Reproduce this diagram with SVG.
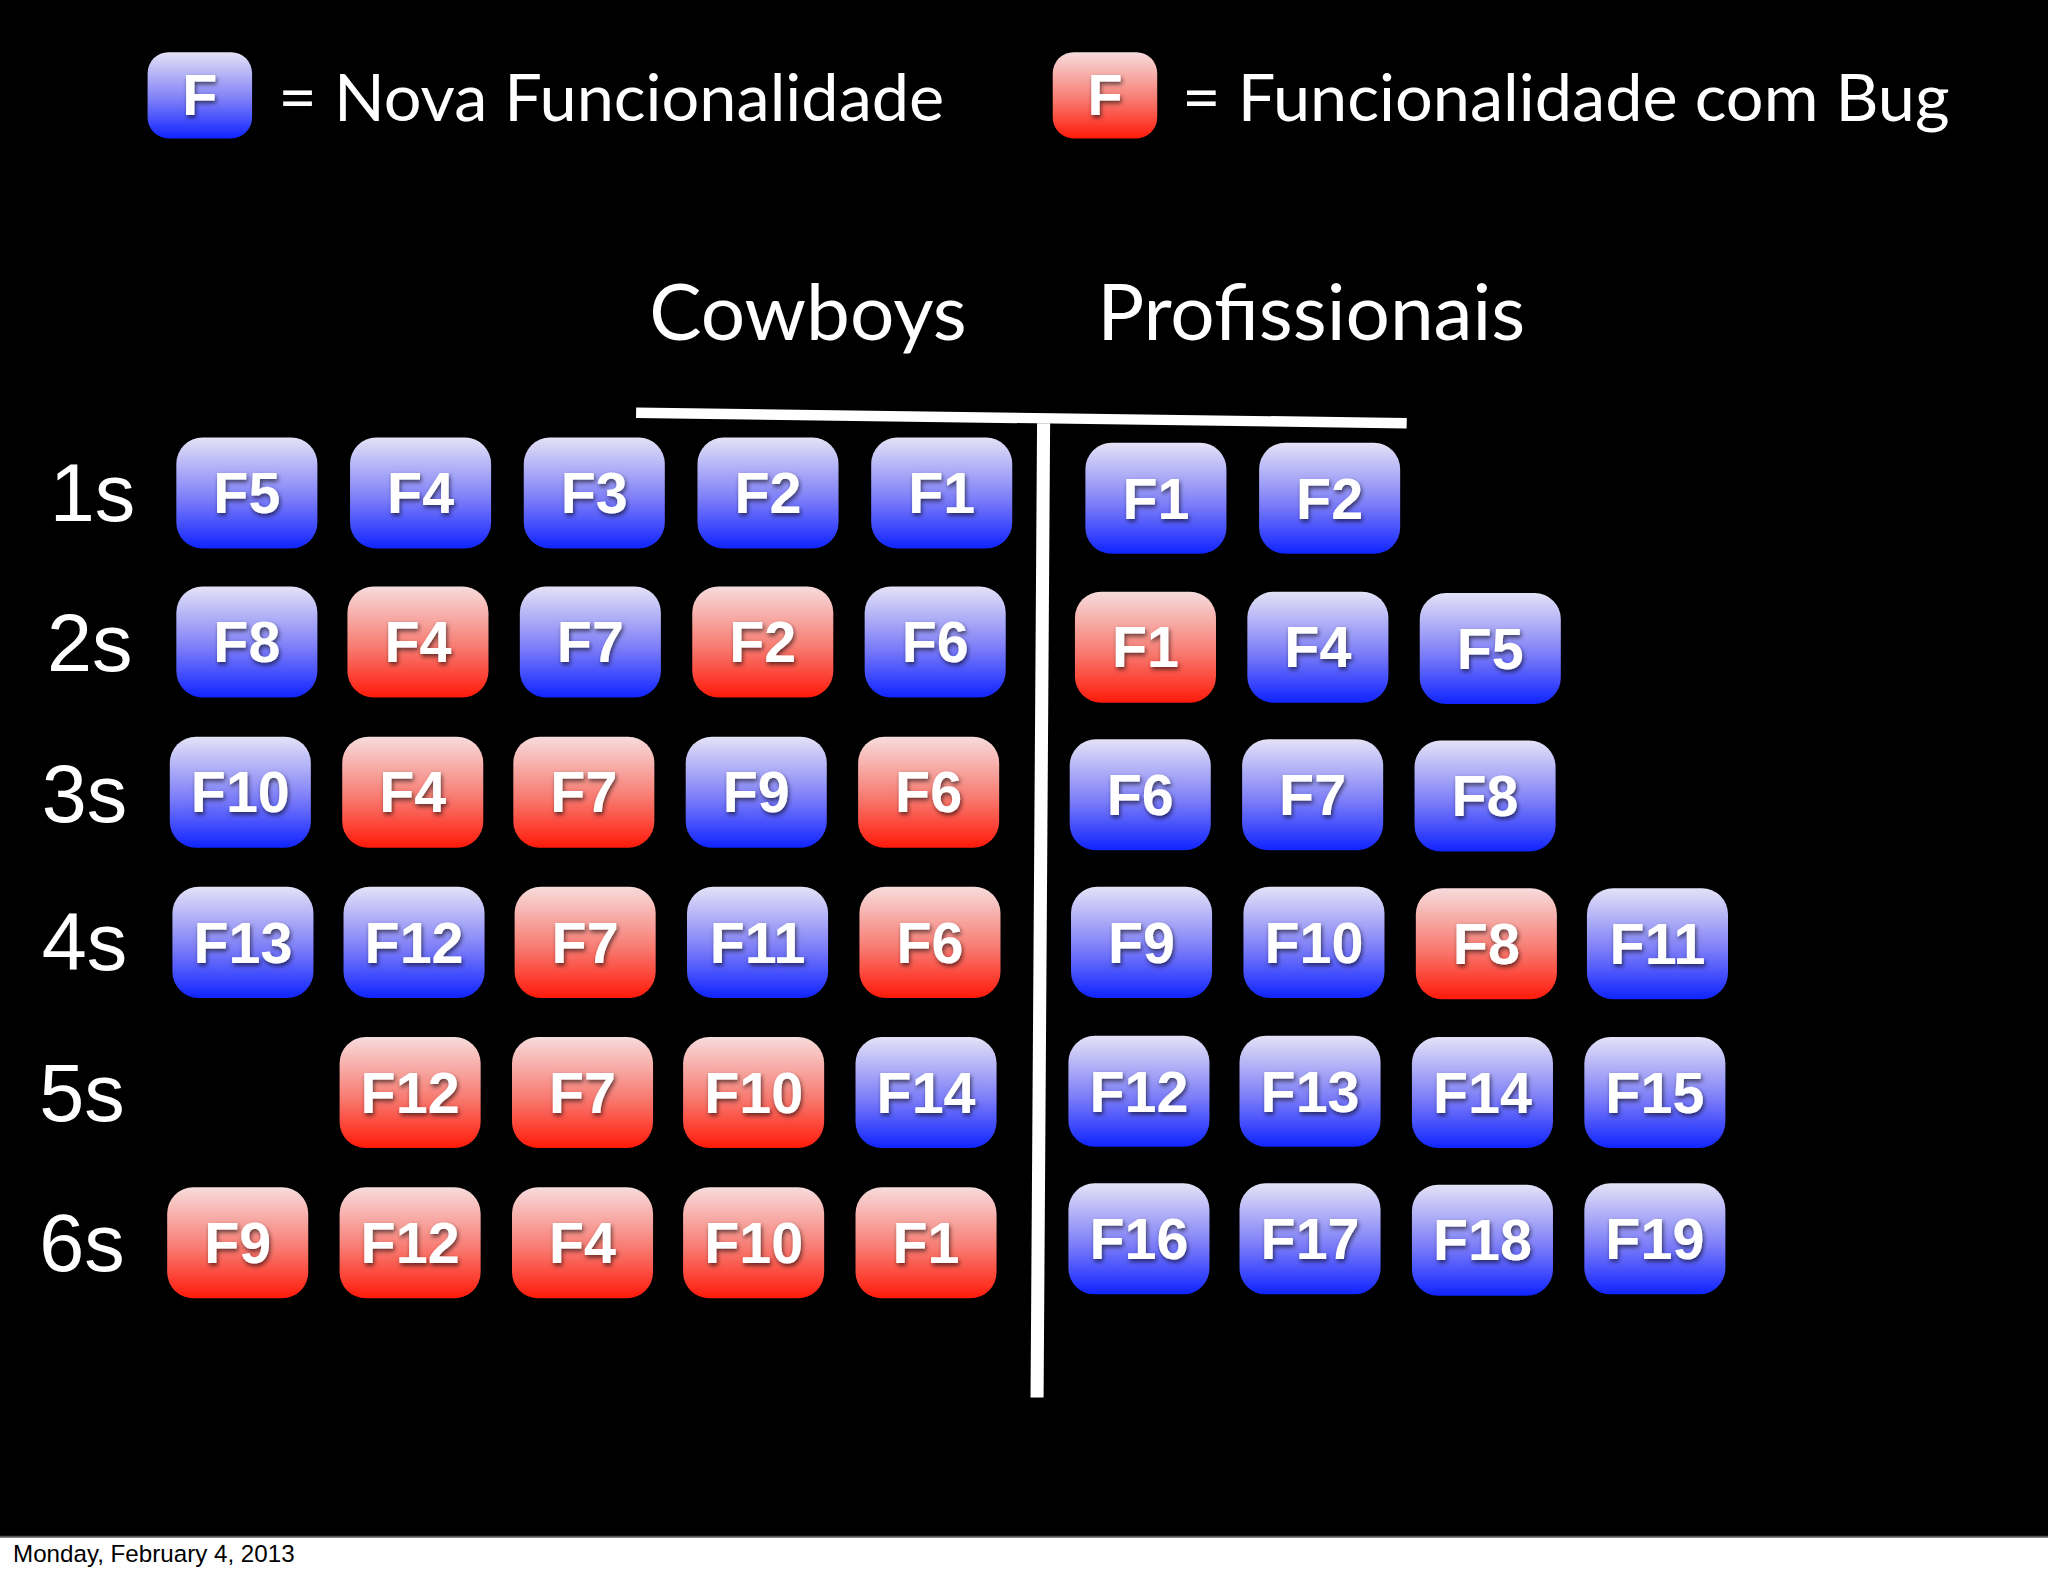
<svg xmlns="http://www.w3.org/2000/svg" width="2048" height="1576" viewBox="0 0 2048 1576">
<defs>
<linearGradient id="gb" x1="0" y1="0" x2="0" y2="1"><stop offset="0" stop-color="#e4e2f6"/><stop offset="0.55" stop-color="#7d7ef8"/><stop offset="1" stop-color="#1024ff"/></linearGradient>
<linearGradient id="gr" x1="0" y1="0" x2="0" y2="1"><stop offset="0" stop-color="#f6dcdc"/><stop offset="0.55" stop-color="#f87a70"/><stop offset="1" stop-color="#ff1a0a"/></linearGradient>
<filter id="sh" x="-20%" y="-20%" width="140%" height="140%"><feDropShadow dx="1" dy="2" stdDeviation="1.5" flood-color="#000" flood-opacity="0.6"/></filter>
<style>
.b rect,.b use{fill:url(#gb)}.r rect,.r use{fill:url(#gr)}
.n text{font-family:"Liberation Sans",Arial,sans-serif;font-weight:bold;font-size:44px;fill:#fff;text-anchor:middle;filter:url(#sh)}
.lab{font-family:"Liberation Sans",Arial,sans-serif;font-size:62px;fill:#fff}
.hd{font-family:"Lato","Open Sans",sans-serif;font-size:60px;fill:#fff}
.lg{font-family:"Lato","Open Sans",sans-serif;font-size:51px;fill:#fff}
</style>
<rect id="box" x="-54" y="-42" width="108" height="85" rx="20"/>
</defs>
<rect width="2048" height="1576" fill="#fff"/>
<g transform="scale(1.30612)">
<rect x="0" y="0" width="1568" height="1176" fill="#000"/>
<line x1="0" y1="1176.5" x2="1568" y2="1176.5" stroke="#555" stroke-width="1.5"/>
<text x="10" y="1196" font-family="Liberation Sans,Arial,sans-serif" font-size="18.5" fill="#000">Monday, February 4, 2013</text>
<g id="legend">
<g class="n b" transform="translate(153,73)"><rect x="-40" y="-33" width="80" height="66" rx="16"/><text y="15">F</text></g>
<text class="lg" x="213" y="93">= Nova Funcionalidade</text>
<g class="n r" transform="translate(846,73)"><rect x="-40" y="-33" width="80" height="66" rx="16"/><text y="15">F</text></g>
<text class="lg" x="905" y="93">= Funcionalidade com Bug</text>
</g>
<text class="hd" x="497" y="260">Cowboys</text>
<text class="hd" x="840" y="260">Profissionais</text>
<g id="connectors" stroke="#fff" fill="none">
<line x1="487" y1="316" x2="1077" y2="324" stroke-width="8"/>
<line x1="799" y1="324" x2="794" y2="1070" stroke-width="10"/>
</g>
<g id="labels">
<text class="lab" x="38" y="399">1s</text>
<text class="lab" x="36" y="514">2s</text>
<text class="lab" x="32" y="629">3s</text>
<text class="lab" x="32" y="743">4s</text>
<text class="lab" x="30" y="858">5s</text>
<text class="lab" x="30" y="973">6s</text>
</g>
<g id="nodes" class="n">
<g class="b" transform="translate(189,377)"><use href="#box"/><text y="16">F5</text></g>
<g class="b" transform="translate(322,377)"><use href="#box"/><text y="16">F4</text></g>
<g class="b" transform="translate(455,377)"><use href="#box"/><text y="16">F3</text></g>
<g class="b" transform="translate(588,377)"><use href="#box"/><text y="16">F2</text></g>
<g class="b" transform="translate(721,377)"><use href="#box"/><text y="16">F1</text></g>
<g class="b" transform="translate(885,381)"><use href="#box"/><text y="16">F1</text></g>
<g class="b" transform="translate(1018,381)"><use href="#box"/><text y="16">F2</text></g>

<g class="b" transform="translate(189,491)"><use href="#box"/><text y="16">F8</text></g>
<g class="r" transform="translate(320,491)"><use href="#box"/><text y="16">F4</text></g>
<g class="b" transform="translate(452,491)"><use href="#box"/><text y="16">F7</text></g>
<g class="r" transform="translate(584,491)"><use href="#box"/><text y="16">F2</text></g>
<g class="b" transform="translate(716,491)"><use href="#box"/><text y="16">F6</text></g>
<g class="r" transform="translate(877,495)"><use href="#box"/><text y="16">F1</text></g>
<g class="b" transform="translate(1009,495)"><use href="#box"/><text y="16">F4</text></g>
<g class="b" transform="translate(1141,496)"><use href="#box"/><text y="16">F5</text></g>

<g class="b" transform="translate(184,606)"><use href="#box"/><text y="16">F10</text></g>
<g class="r" transform="translate(316,606)"><use href="#box"/><text y="16">F4</text></g>
<g class="r" transform="translate(447,606)"><use href="#box"/><text y="16">F7</text></g>
<g class="b" transform="translate(579,606)"><use href="#box"/><text y="16">F9</text></g>
<g class="r" transform="translate(711,606)"><use href="#box"/><text y="16">F6</text></g>
<g class="b" transform="translate(873,608)"><use href="#box"/><text y="16">F6</text></g>
<g class="b" transform="translate(1005,608)"><use href="#box"/><text y="16">F7</text></g>
<g class="b" transform="translate(1137,609)"><use href="#box"/><text y="16">F8</text></g>

<g class="b" transform="translate(186,721)"><use href="#box"/><text y="16">F13</text></g>
<g class="b" transform="translate(317,721)"><use href="#box"/><text y="16">F12</text></g>
<g class="r" transform="translate(448,721)"><use href="#box"/><text y="16">F7</text></g>
<g class="b" transform="translate(580,721)"><use href="#box"/><text y="16">F11</text></g>
<g class="r" transform="translate(712,721)"><use href="#box"/><text y="16">F6</text></g>
<g class="b" transform="translate(874,721)"><use href="#box"/><text y="16">F9</text></g>
<g class="b" transform="translate(1006,721)"><use href="#box"/><text y="16">F10</text></g>
<g class="r" transform="translate(1138,722)"><use href="#box"/><text y="16">F8</text></g>
<g class="b" transform="translate(1269,722)"><use href="#box"/><text y="16">F11</text></g>

<g class="r" transform="translate(314,836)"><use href="#box"/><text y="16">F12</text></g>
<g class="r" transform="translate(446,836)"><use href="#box"/><text y="16">F7</text></g>
<g class="r" transform="translate(577,836)"><use href="#box"/><text y="16">F10</text></g>
<g class="b" transform="translate(709,836)"><use href="#box"/><text y="16">F14</text></g>
<g class="b" transform="translate(872,835)"><use href="#box"/><text y="16">F12</text></g>
<g class="b" transform="translate(1003,835)"><use href="#box"/><text y="16">F13</text></g>
<g class="b" transform="translate(1135,836)"><use href="#box"/><text y="16">F14</text></g>
<g class="b" transform="translate(1267,836)"><use href="#box"/><text y="16">F15</text></g>

<g class="r" transform="translate(182,951)"><use href="#box"/><text y="16">F9</text></g>
<g class="r" transform="translate(314,951)"><use href="#box"/><text y="16">F12</text></g>
<g class="r" transform="translate(446,951)"><use href="#box"/><text y="16">F4</text></g>
<g class="r" transform="translate(577,951)"><use href="#box"/><text y="16">F10</text></g>
<g class="r" transform="translate(709,951)"><use href="#box"/><text y="16">F1</text></g>
<g class="b" transform="translate(872,948)"><use href="#box"/><text y="16">F16</text></g>
<g class="b" transform="translate(1003,948)"><use href="#box"/><text y="16">F17</text></g>
<g class="b" transform="translate(1135,949)"><use href="#box"/><text y="16">F18</text></g>
<g class="b" transform="translate(1267,948)"><use href="#box"/><text y="16">F19</text></g>
</g>
</g>
</svg>
